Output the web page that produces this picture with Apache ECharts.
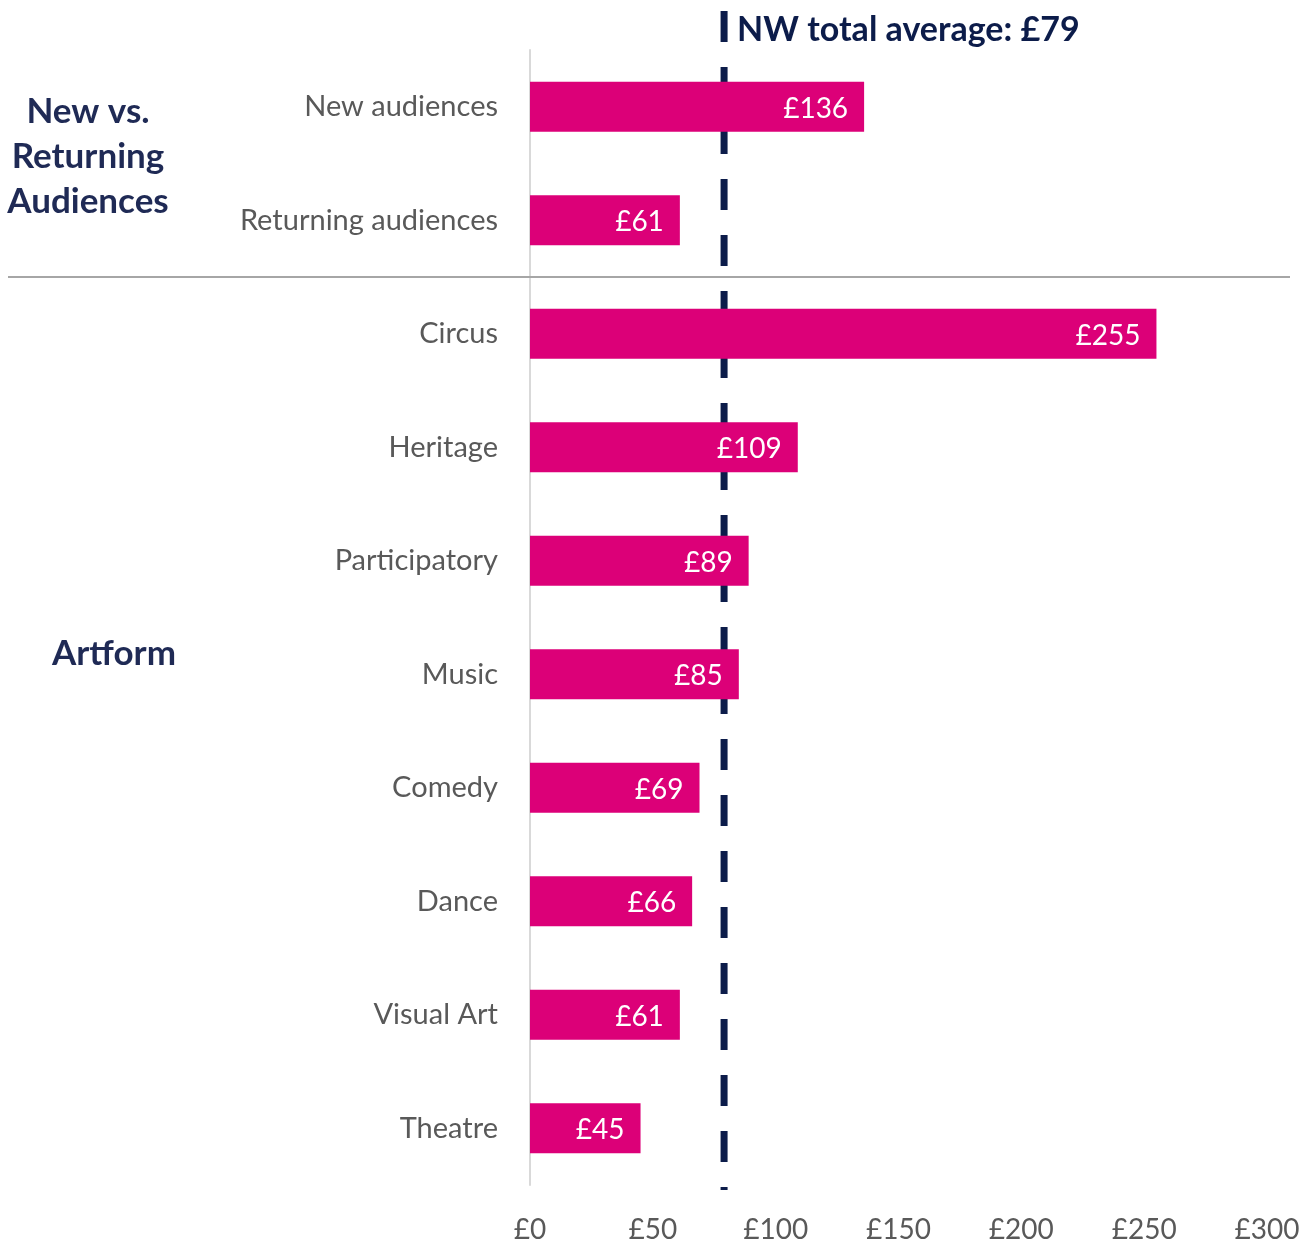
<!DOCTYPE html>
<html>
<head>
<meta charset="utf-8">
<script src="https://cdn.jsdelivr.net/npm/echarts@6/dist/echarts.min.js"></script>
<style>
  html, body { margin: 0; padding: 0; background: #fff; }
  #chart { width: 1314px; height: 1239px; }
</style>
</head>
<body>
<div id="chart"></div>
<script>
// Average spend per booking, by audience type and artform
const categories = ['New audiences', 'Returning audiences', 'Circus', 'Heritage', 'Participatory',
                    'Music', 'Comedy', 'Dance', 'Visual Art', 'Theatre'];
const values = [136, 61, 255, 109, 89, 85, 69, 66, 61, 45];
const averageValue = 79;
const averageLabel = 'NW total average: £79';
const xTicks = [0, 50, 100, 150, 200, 250, 300];
const groupLabels = ['New vs.\nReturning\nAudiences', 'Artform'];

const FONT = 'Lato, "Open Sans", sans-serif';
const PINK = '#dc0078';
const NAVY = '#0c1c4a';
const GREY = '#595959';

const chart = echarts.init(document.getElementById('chart'), null, { renderer: 'canvas' });

chart.setOption({
  animation: false,
  backgroundColor: '#ffffff',
  grid: { left: 530, right: 47, top: 50, bottom: 54, containLabel: false, outerBoundsMode: 'none' },
  xAxis: {
    type: 'value',
    min: xTicks[0],
    max: xTicks[xTicks.length - 1],
    interval: 50,
    axisLine: { show: false },
    axisTick: { show: false },
    splitLine: { show: false },
    axisLabel: {
      color: GREY, fontFamily: FONT, fontSize: 28, margin: 31,
      formatter: v => '£' + v
    }
  },
  yAxis: {
    type: 'category',
    inverse: true,
    data: categories,
    axisLine: { show: true, lineStyle: { color: '#d9d9d9', width: 2 } },
    axisTick: { show: false },
    axisLabel: { color: GREY, fontFamily: FONT, fontSize: 29, margin: 32 }
  },
  series: [{
    type: 'bar',
    data: values,
    barWidth: 50,
    z: 5,
    itemStyle: { color: PINK },
    label: {
      show: true,
      position: 'insideRight',
      distance: 16,
      color: '#ffffff',
      fontFamily: FONT,
      fontSize: 28,
      offset: [0, 2],
      formatter: p => '£' + p.value
    }
  }]
});

// Decorations positioned through the chart's own axes
function drawOverlays() {
  const avgX = chart.convertToPixel({ xAxisIndex: 0 }, averageValue);
  const yReturning = chart.convertToPixel({ yAxisIndex: 0 }, categories[1]);
  const yCircus = chart.convertToPixel({ yAxisIndex: 0 }, categories[2]);
  const sepY = Math.round((yReturning + yCircus) / 2);
  const yArtform = chart.convertToPixel({ yAxisIndex: 0 }, categories[5]);
  const yTop = chart.convertToPixel({ yAxisIndex: 0 }, categories[0]);

  chart.setOption({
    graphic: [
      {
        type: 'line', z: 1, silent: true,
        shape: { x1: avgX, y1: 11, x2: avgX, y2: 1190 },
        style: { stroke: NAVY, lineWidth: 7, lineDash: [31, 25] }
      },
      {
        type: 'text', z: 10, silent: true,
        x: avgX + 13, y: 30,
        style: {
          text: averageLabel, fill: NAVY, fontFamily: FONT, fontWeight: 'bold',
          fontSize: 34, textVerticalAlign: 'middle', textAlign: 'left'
        }
      },
      {
        type: 'line', z: 10, silent: true,
        shape: { x1: 8, y1: sepY, x2: 1290, y2: sepY },
        style: { stroke: '#a6a6a6', lineWidth: 2 }
      },
      {
        type: 'text', z: 10, silent: true,
        x: 88, y: yTop + 50,
        style: {
          text: groupLabels[0], fill: '#1f2a55', fontFamily: FONT, fontWeight: 'bold',
          fontSize: 35, lineHeight: 45, textAlign: 'center', textVerticalAlign: 'middle'
        }
      },
      {
        type: 'text', z: 10, silent: true,
        x: 114, y: yArtform - 21,
        style: {
          text: groupLabels[1], fill: '#1f2a55', fontFamily: FONT, fontWeight: 'bold',
          fontSize: 35, textAlign: 'center', textVerticalAlign: 'middle'
        }
      }
    ]
  });
}
drawOverlays();
</script>
</body>
</html>
